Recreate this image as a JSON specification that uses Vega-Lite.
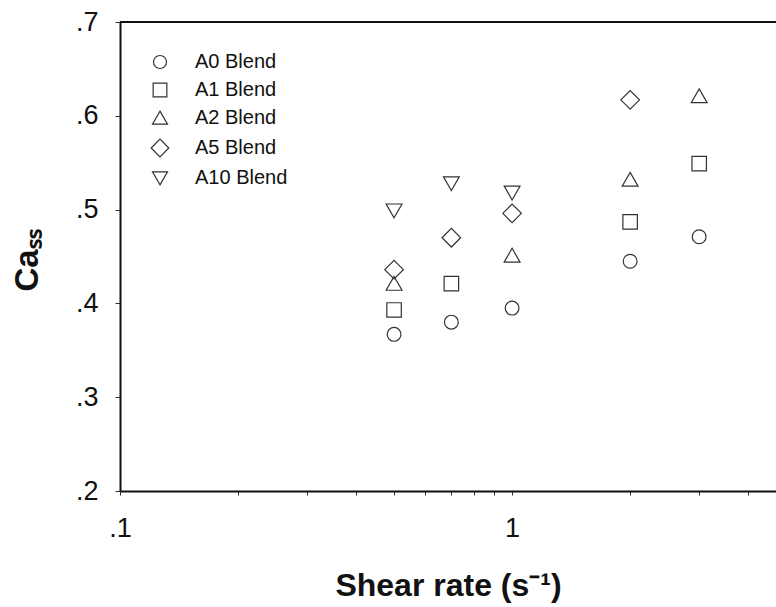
{
  "$schema": "https://vega.github.io/schema/vega-lite/v6.json",
  "width": 656,
  "height": 469,
  "autosize": {"type": "none"},
  "padding": {"left": 120, "top": 22, "right": 0, "bottom": 116},
  "background": "white",
  "config": {
    "view": {"stroke": null},
    "font": "Liberation Sans",
    "axis": {
      "grid": false,
      "domainColor": "#111",
      "domainWidth": 2,
      "tickColor": "#333",
      "tickWidth": 1,
      "labelColor": "#111",
      "labelFont": "Liberation Sans",
      "labelFontSize": 27,
      "titleColor": "#111",
      "titleFont": "Liberation Sans",
      "titleFontWeight": "bold"
    },
    "legend": {
      "title": null,
      "orient": "none",
      "legendX": 30,
      "legendY": 30,
      "padding": 0,
      "labelFontSize": 20,
      "labelFont": "Liberation Sans",
      "labelColor": "#111",
      "labelOffset": 25,
      "rowPadding": 8,
      "symbolStrokeWidth": 1.2,
      "symbolStrokeColor": "#333"
    }
  },
  "data": {
    "values": [
      {"rate": 0.5, "ca": 0.367, "blend": "A0 Blend"},
      {"rate": 0.7, "ca": 0.380, "blend": "A0 Blend"},
      {"rate": 1, "ca": 0.395, "blend": "A0 Blend"},
      {"rate": 2, "ca": 0.445, "blend": "A0 Blend"},
      {"rate": 3, "ca": 0.471, "blend": "A0 Blend"},
      {"rate": 0.5, "ca": 0.393, "blend": "A1 Blend"},
      {"rate": 0.7, "ca": 0.421, "blend": "A1 Blend"},
      {"rate": 2, "ca": 0.487, "blend": "A1 Blend"},
      {"rate": 3, "ca": 0.549, "blend": "A1 Blend"},
      {"rate": 0.5, "ca": 0.421, "blend": "A2 Blend"},
      {"rate": 1, "ca": 0.451, "blend": "A2 Blend"},
      {"rate": 2, "ca": 0.532, "blend": "A2 Blend"},
      {"rate": 3, "ca": 0.621, "blend": "A2 Blend"},
      {"rate": 0.5, "ca": 0.436, "blend": "A5 Blend"},
      {"rate": 0.7, "ca": 0.470, "blend": "A5 Blend"},
      {"rate": 1, "ca": 0.496, "blend": "A5 Blend"},
      {"rate": 2, "ca": 0.617, "blend": "A5 Blend"},
      {"rate": 0.5, "ca": 0.499, "blend": "A10 Blend"},
      {"rate": 0.7, "ca": 0.528, "blend": "A10 Blend"},
      {"rate": 1, "ca": 0.518, "blend": "A10 Blend"}
    ]
  },
  "layer": [
    {
      "mark": {"type": "rule", "color": "#111", "strokeWidth": 2},
      "encoding": {"y": {"datum": 0.7}}
    },
    {
      "mark": {"type": "point", "filled": false, "strokeWidth": 1.2, "color": "#333", "opacity": 1, "size": 190},
      "encoding": {
        "x": {
          "field": "rate",
          "type": "quantitative",
          "scale": {"type": "log", "domain": [0.1, 4.71], "nice": false},
          "axis": {
            "values": [0.1, 0.2, 0.3, 0.4, 0.5, 0.6, 0.7, 0.8, 0.9, 1, 2, 3, 4],
            "labelExpr": "datum.value == 0.1 ? '.1' : (datum.value == 1 ? '1' : '')",
            "tickSize": 4,
            "labelPadding": 20,
            "labelFlush": false,
            "labelOverlap": false,
            "title": "Shear rate (s⁻¹)",
            "titleFontSize": 32,
            "titleBaseline": "alphabetic",
            "titleY": 104
          }
        },
        "y": {
          "field": "ca",
          "type": "quantitative",
          "scale": {"domain": [0.2, 0.7], "nice": false, "zero": false},
          "axis": {
            "values": [0.2, 0.3, 0.4, 0.5, 0.6, 0.7],
            "labelExpr": "'.' + format(datum.value * 10, '.0f')",
            "tickSize": 5,
            "labelPadding": 17,
            "labelFlush": false,
            "title": "Caₛₛ",
            "titleFontSize": 33,
            "titleBaseline": "alphabetic",
            "titleX": -83,
            "titleY": 238
          }
        },
        "shape": {
          "field": "blend",
          "type": "nominal",
          "scale": {
            "domain": ["A0 Blend", "A1 Blend", "A2 Blend", "A5 Blend", "A10 Blend"],
            "range": [
              "circle",
              "M-1.05,-1.05L1.05,-1.05L1.05,1.05L-1.05,1.05Z",
              "M0,-1.05L1.15,0.95L-1.15,0.95Z",
              "M-1.35,0L0,-1.35L1.35,0L0,1.35Z",
              "M0,1.05L1.15,-0.95L-1.15,-0.95Z"
            ]
          },
          "legend": {"symbolSize": 170}
        }
      }
    }
  ]
}
